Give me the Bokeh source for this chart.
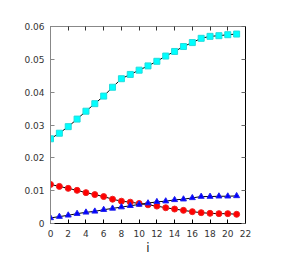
from bokeh.plotting import figure
from bokeh.models import LinearAxis, FixedTicker, CustomJSTickFormatter, Range1d
from bokeh.embed import file_html
from bokeh.resources import INLINE

i_vals = list(range(22))
cyan_vals = [0.0258, 0.0275, 0.0295, 0.0318, 0.0342, 0.0365, 0.0388, 0.0415, 0.0441, 0.0454,
             0.0467, 0.0480, 0.0494, 0.0510, 0.0524, 0.0539, 0.0551, 0.0564, 0.0570, 0.0572,
             0.0575, 0.0577]
red_vals = [0.0119, 0.0113, 0.0107, 0.0101, 0.0094, 0.0088, 0.0082, 0.0074, 0.0068, 0.0065,
            0.0061, 0.0057, 0.0053, 0.0048, 0.0044, 0.0040, 0.0036, 0.0033, 0.0031, 0.0030,
            0.0030, 0.0028]
blue_vals = [0.0017, 0.0021, 0.0025, 0.0030, 0.0034, 0.0037, 0.0042, 0.0046, 0.0050, 0.0054,
             0.0058, 0.0062, 0.0066, 0.0068, 0.0072, 0.0074, 0.0078, 0.0082, 0.0082, 0.0083,
             0.0083, 0.0084]
x_ticks = [0, 2, 4, 6, 8, 10, 12, 14, 16, 18, 20, 22]
y_ticks = [0, 0.01, 0.02, 0.03, 0.04, 0.05, 0.06]

p = figure(output_backend="svg", toolbar_location=None,
           frame_width=195, frame_height=197,
           x_range=Range1d(0, 22), y_range=Range1d(0, 0.06),
           min_border_left=50, min_border_top=26, min_border_right=10, min_border_bottom=2,
           x_axis_location=None, y_axis_location=None)
p.outline_line_color = None
p.grid.visible = False
p.background_fill_color = "white"

font = "DejaVu Sans"

bottom = LinearAxis(ticker=FixedTicker(ticks=x_ticks), axis_label="i")
left = LinearAxis(ticker=FixedTicker(ticks=y_ticks),
                  formatter=CustomJSTickFormatter(code="return Math.abs(tick) < 1e-9 ? '0' : tick.toFixed(2);"))
top = LinearAxis(ticker=FixedTicker(ticks=x_ticks))
right = LinearAxis(ticker=FixedTicker(ticks=y_ticks))

for ax in (bottom, left, top, right):
    ax.major_tick_in = 4
    ax.major_tick_out = 0
    ax.minor_tick_in = 0
    ax.minor_tick_out = 0
    ax.major_label_text_font = font
    ax.major_label_text_font_size = "9px"
    ax.major_label_text_color = "#333333"
    ax.axis_label_text_font = font
    ax.axis_label_text_font_style = "normal"
    ax.axis_label_text_font_size = "12px"
    ax.axis_label_text_color = "#222222"
    ax.major_label_standoff = 6

for ax in (top, right):
    ax.major_label_text_alpha = 0
    ax.major_label_text_font_size = "1px"
    ax.major_label_standoff = 0

left.axis_line_color = "#888888"
left.major_tick_line_color = "#888888"
top.axis_line_color = "#888888"
top.major_tick_line_color = "#333333"
bottom.axis_line_color = "black"
right.axis_line_color = "black"
right.major_tick_line_color = "#666666"
bottom.major_label_standoff = 6
bottom.axis_label_standoff = 1

p.add_layout(bottom, "below")
p.add_layout(left, "left")
p.add_layout(top, "above")
p.add_layout(right, "right")

p.line(i_vals, cyan_vals, line_color="black", line_width=1)
p.scatter(i_vals, cyan_vals, marker="square", size=6, fill_color="cyan", line_color="#22dddd")
p.line(i_vals, red_vals, line_color="black", line_width=1)
p.scatter(i_vals, red_vals, marker="circle", size=6, fill_color="red", line_color="#ee2222")
p.line(i_vals, blue_vals, line_color="black", line_width=1)
p.scatter(i_vals, blue_vals, marker="triangle", size=6, fill_color="blue", line_color="#2222ee")

open("out.html", "w").write(file_html(p, INLINE))
